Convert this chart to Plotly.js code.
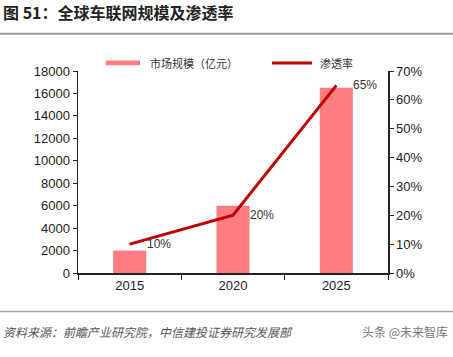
<!DOCTYPE html>
<html><head><meta charset="utf-8">
<script src="https://cdn.plot.ly/plotly-3.0.1.min.js"></script>
<style>body{margin:0;padding:0;background:#fff}#chart{width:453px;height:357px}</style>
</head><body><div id="chart"></div>
<script>
const years = ['2015', '2020', '2025'];
const marketSize = [2000, 6000, 16500];
const penetration = [0.10, 0.20, 0.65];
const penLabels = ['10%', '20%', '65%'];
const leftTicks = [0,2000,4000,6000,8000,10000,12000,14000,16000,18000];
const rightTicks = [0,0.1,0.2,0.3,0.4,0.5,0.6,0.7];

const cjk = '"Noto Sans CJK SC", "Liberation Sans", sans-serif';
const data = [
  {type:'bar', x: years, y: marketSize, name:'市场规模（亿元）', marker:{color:'#ff7c80'}, width:0.32, yaxis:'y', showlegend:false},
  {type:'scatter', mode:'lines', x: years, y: penetration, name:'渗透率', line:{color:'#c00000', width:3}, xaxis:'x', yaxis:'y2', showlegend:false}
];
const annotations = [
  {xref:'paper', yref:'paper', x:-0.25, y:1.29, xanchor:'left', yanchor:'middle', showarrow:false,
   text:'<b>图 51：全球车联网规模及渗透率</b>', font:{family:cjk, size:16, color:'#222'}},
  {xref:'paper', yref:'paper', x:-0.25, y:-0.29, xanchor:'left', yanchor:'middle', showarrow:false,
   text:'<i>资料来源：前瞻产业研究院，中信建投证券研究发展部</i>', font:{family:cjk, size:12, color:'#555'}},
  {xref:'paper', yref:'paper', x:1.2, y:-0.29, xanchor:'right', yanchor:'middle', showarrow:false,
   text:'头条 @未来智库', font:{family:cjk, size:12, color:'#777'}},
  {xref:'paper', yref:'paper', x:0.226, y:1.04, xanchor:'left', yanchor:'middle', showarrow:false,
   text:'市场规模（亿元）', font:{family:cjk, size:11, color:'#333'}},
  {xref:'paper', yref:'paper', x:0.774, y:1.04, xanchor:'left', yanchor:'middle', showarrow:false,
   text:'渗透率', font:{family:cjk, size:11, color:'#333'}}
];
for (let i=0;i<years.length;i++){
  annotations.push({x: i, y: penetration[i], xref:'x', yref:'y2', text: penLabels[i], showarrow:false,
    xanchor:'left', yanchor:'middle', xshift:15, yshift:0, font:{family:'Liberation Sans, Arial', size:12, color:'#333'}});
}
const layout = {
  width:453, height:357,
  margin:{l:78, r:65, t:71, b:84},
  paper_bgcolor:'#fff', plot_bgcolor:'#fff',
  showlegend:false,
  xaxis:{type:'category', range:[-0.5,2.5], showline:true, linecolor:'#222', linewidth:1.5, ticks:'outside', tickson:'boundaries', ticklen:5, tickcolor:'#222',
    tickfont:{family:'Liberation Sans, Arial', size:13, color:'#222'}, tickangle:0, showgrid:false, zeroline:false},
  yaxis:{range:[0,18000], tickvals:leftTicks, ticktext:leftTicks.map(String), showline:true, linecolor:'#222', linewidth:1.5, ticks:'outside', ticklen:4, tickcolor:'#222',
    tickfont:{family:'Liberation Sans, Arial', size:13, color:'#222'}, showgrid:false, zeroline:false},
  yaxis2:{range:[0,0.7], overlaying:'y', side:'right', tickvals:rightTicks, ticktext:rightTicks.map(v=>Math.round(v*100)+'%'), showline:true, linecolor:'#222', linewidth:1.5,
    ticks:'outside', ticklen:4, tickcolor:'#222', tickfont:{family:'Liberation Sans, Arial', size:13, color:'#222'}, showgrid:false, zeroline:false},
  shapes:[
    {type:'line', xref:'paper', yref:'paper', x0:-0.26, x1:1.22, y0:1.185, y1:1.185, line:{color:'#999', width:2}},
    {type:'line', xref:'paper', yref:'paper', x0:-0.26, x1:1.22, y0:-0.19, y1:-0.19, line:{color:'#aaa', width:1.5}},
    {type:'rect', xref:'paper', yref:'paper', x0:0.09, x1:0.2, y0:1.028, y1:1.052, fillcolor:'#ff7c80', line:{width:0}},
    {type:'line', xref:'paper', yref:'paper', x0:0.626, x1:0.755, y0:1.04, y1:1.04, line:{color:'#c00000', width:3}}
  ],
  annotations: annotations
};
Plotly.newPlot('chart', data, layout, {displayModeBar:false, staticPlot:true});
</script></body></html>
